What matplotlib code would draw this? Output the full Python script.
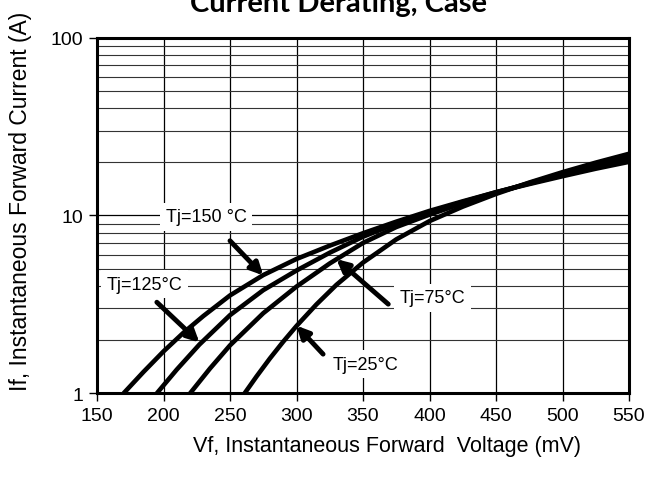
import numpy as np
import matplotlib
matplotlib.use("Agg")
import matplotlib.pyplot as plt
from matplotlib.ticker import FixedLocator, LogLocator, NullFormatter, FixedFormatter

# datos (mV, A)
vf_150 = [170, 185, 200, 215, 230, 250, 275, 300, 325, 350, 375, 400, 425, 450, 475, 500, 525, 550]
if_150 = [1.0, 1.32, 1.72, 2.19, 2.72, 3.55, 4.62, 5.69, 6.76, 7.94, 9.22, 10.6, 12.0, 13.5, 15.0, 16.6, 18.3, 20.0]

vf_125 = [195, 210, 227, 250, 275, 300, 325, 350, 375, 400, 425, 450, 475, 500, 525, 550]
if_125 = [1.0, 1.36, 1.88, 2.75, 3.8, 4.9, 6.17, 7.59, 9.0, 10.4, 11.9, 13.5, 15.1, 16.9, 18.7, 20.7]

vf_75 = [220, 235, 250, 275, 300, 325, 350, 375, 400, 425, 450, 475, 500, 525, 550]
if_75 = [1.0, 1.38, 1.86, 2.82, 3.98, 5.37, 7.0, 8.6, 10.1, 11.7, 13.4, 15.2, 17.2, 19.3, 21.4]

vf_25 = [261, 270, 280, 290, 300, 315, 330, 350, 375, 400, 425, 450, 475, 500, 525, 550]
if_25 = [1.0, 1.245, 1.57, 1.95, 2.39, 3.16, 4.07, 5.43, 7.33, 9.29, 11.2, 13.2, 15.3, 17.5, 19.8, 22.2]

x_ticks = [150, 200, 250, 300, 350, 400, 450, 500, 550]
y_ticks = [1, 10, 100]
y_tick_labels = ["1", "10", "100"]

etiquetas = ["Tj=150 \u00b0C", "Tj=125\u00b0C", "Tj=75\u00b0C", "Tj=25\u00b0C"]

plt.rcParams["font.family"] = ["Liberation Sans", "DejaVu Sans"]

fig = plt.figure(figsize=(6.5, 4.81), dpi=100)
ax = fig.add_axes([97/650, 1-394.3/481, 532/650, 355.8/481])

for vf, corr in [(vf_150, if_150), (vf_125, if_125), (vf_75, if_75), (vf_25, if_25)]:
    ax.plot(vf, corr, color="black", lw=3.3, solid_capstyle="butt", solid_joinstyle="round", zorder=4)

ax.set_yscale("log")
ax.set_xlim(150, 550)
ax.set_ylim(1, 100)
ax.xaxis.set_major_locator(FixedLocator(x_ticks))
ax.yaxis.set_major_locator(FixedLocator(y_ticks))
ax.yaxis.set_major_formatter(FixedFormatter(y_tick_labels))
ax.yaxis.set_minor_locator(LogLocator(base=10, subs=np.arange(2, 10)))
ax.yaxis.set_minor_formatter(NullFormatter())

ax.grid(True, which="major", axis="both", color="black", lw=0.9)
ax.grid(True, which="minor", axis="y", color="#333333", lw=0.8)
ax.tick_params(which="major", direction="out", length=6, width=1, labelsize=14, pad=4)
ax.tick_params(which="minor", length=0)
for s in ax.spines.values():
    s.set_linewidth(2.2)

# etiquetas con flechas
caja = dict(facecolor="white", edgecolor="none", pad=4)
flecha = dict(arrowstyle="-|>", color="black", lw=3.5, mutation_scale=18, shrinkA=0, shrinkB=0)

ax.text(232, 9.8, etiquetas[0], fontsize=13, ha="center", va="center", bbox=caja, zorder=3)
ax.annotate("", xy=(275, 4.6), xytext=(250, 7.2), arrowprops=flecha, zorder=5)

ax.text(186, 4.1, etiquetas[1], fontsize=13, ha="center", va="center", bbox=caja, zorder=3)
ax.annotate("", xy=(227, 1.93), xytext=(195, 3.25), arrowprops=flecha, zorder=5)

ax.text(402, 3.45, etiquetas[2], fontsize=13, ha="center", va="center", bbox=caja, zorder=3)
ax.annotate("", xy=(330, 5.68), xytext=(369, 3.17), arrowprops=flecha, zorder=5)

ax.text(352, 1.46, etiquetas[3], fontsize=13, ha="center", va="center", bbox=caja, zorder=3)
ax.annotate("", xy=(300, 2.4), xytext=(320, 1.66), arrowprops=flecha, zorder=5)

fig.text(339/650, 1-12/481, "Current Derating, Case", fontsize=21, fontweight="bold",
         family=["Lato", "DejaVu Sans"], ha="center", va="baseline")
fig.text(21/650, 1-201/481, "If, Instantaneous Forward Current (A)", fontsize=16.5,
         rotation=90, ha="center", va="center")
fig.text(387/650, 1-447/481, "Vf, Instantaneous Forward  Voltage (mV)", fontsize=15.5,
         ha="center", va="center")

fig.savefig("out.png", dpi=100)
